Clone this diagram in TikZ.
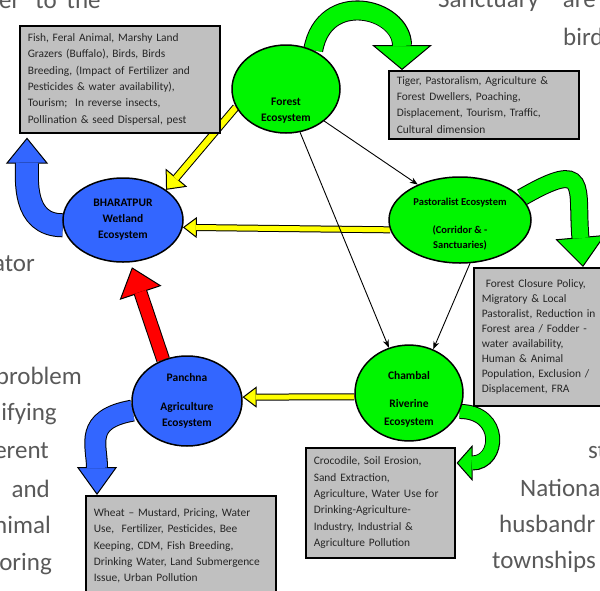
\documentclass[tikz,border=0pt]{standalone}
\usepackage{fontspec}
\setmainfont{Carlito}
\usetikzlibrary{shapes.geometric,arrows.meta,backgrounds,calc}
\definecolor{ecogreen}{RGB}{0,245,0}
\definecolor{ecoblue}{RGB}{51,102,255}
\definecolor{ecoyellow}{RGB}{255,255,0}
\definecolor{ecored}{RGB}{255,0,0}
\definecolor{boxgray}{RGB}{192,192,192}
\definecolor{slidetext}{RGB}{89,89,89}
\newcommand{\blockarrow}[5]{%
	\draw[line width=#2+2pt, -{Triangle[length=#4, width=#3, fill=#1, line width=1pt]}] #5;
	\draw[line width=#2, draw=#1, shorten >=#4-1pt] #5;
}
\begin{document}
\begin{tikzpicture}[x=1pt, y=1pt,
	eco/.style={ellipse, draw=black, line width=1.5pt, inner sep=0pt, align=center, font=\fontsize{11.5}{16}\selectfont\bfseries},
	wet/.style={eco, fill=ecoblue},
	dry/.style={eco, fill=ecogreen},
	info/.style={rectangle, draw=black, line width=1.6pt, fill=boxgray, anchor=north west, align=left, inner xsep=8pt, inner ysep=3pt, text=black!85, font=\fontsize{11.4}{16.4}\selectfont},
	slide/.style={text=slidetext, inner sep=0pt, font=\fontsize{25}{30}\selectfont},
	link/.style={-{Stealth[length=8pt, width=6pt]}, line width=0.9pt}]
	\useasboundingbox (0,0) rectangle (600,-590);
	\node[dry, minimum width=108pt, minimum height=88pt] (forest) at (286,-89) {\raisebox{-24pt}[0pt][0pt]{\begin{tabular}{@{}c@{}}Forest\\Ecosystem\end{tabular}}};
	\node[wet, minimum width=120pt, minimum height=84pt] (bharatpur) at (123,-220) {BHARATPUR\\Wetland\\Ecosystem};
	\node[dry, minimum width=142pt, minimum height=86pt, font=\fontsize{10.5}{16}\selectfont\bfseries] (pastoral) at (460,-220) {\mbox{}\\Pastoralist Ecosystem\\[12pt](Corridor \& -\\[-1.5pt]Sanctuaries)};
	\node[dry, minimum width=108pt, minimum height=88pt] (chambal) at (409,-393) {\mbox{}\\[4pt]Chambal\\[12pt]Riverine\\[2pt]Ecosystem};
	\node[wet, minimum width=110pt, minimum height=90pt] (panchna) at (187,-401) {Panchna\\[13pt]Agriculture\\Ecosystem};
	\node[info, text width=184pt, minimum height=107pt] (wetinfo) at (19,-25) {Fish, Feral Animal, Marshy Land\\Grazers (Buffalo), Birds, Birds\\Breeding, (Impact of Fertilizer and\\Pesticides \& water availability),\\Tourism;~ In reverse insects,\\Pollination \& seed Dispersal, pest};
	\node[info, text width=174pt, minimum height=68pt] (forestinfo) at (388,-70) {Tiger, Pastoralism, Agriculture \&\\Forest Dwellers, Poaching,\\Displacement, Tourism, Traffic,\\Cultural dimension};
	\node[info, text width=135pt, minimum height=138pt, font=\fontsize{11.4}{15}\selectfont] (pastinfo) at (473,-267) {\hspace*{4pt}Forest Closure Policy,\\Migratory \& Local\\Pastoralist, Reduction in\\Forest area / Fodder -\\water availability,\\Human \& Animal\\Population, Exclusion /\\Displacement, FRA};
	\node[info, text width=133pt, minimum height=110pt] (chambinfo) at (305,-447) {Crocodile, Soil Erosion,\\Sand Extraction,\\Agriculture, Water Use for\\Drinking-Agriculture-\\Industry, Industrial \&\\Agriculture Pollution};
	\node[info, text width=174pt, minimum height=100pt] (panchinfo) at (85,-495) {Wheat -- Mustard, Pricing, Water\\Use,~ Fertilizer, Pesticides, Bee\\Keeping, CDM, Fish Breeding,\\Drinking Water, Land Submergence\\Issue, Urban Pollution};
	\begin{scope}[on background layer]
		\node[slide, anchor=base west] (topleft) at (-1,-8) {er\hspace{15pt}to\hspace{10pt}the};
		\node[slide, anchor=base west] (topright) at (438,-7) {Sanctuary\hspace{24pt}are};
		\node[slide, anchor=base west] (birdline) at (563,-45) {bird};
		\node[slide, anchor=base east] (atorline) at (35,-271) {ator};
		\node[slide, anchor=base east] (probline) at (82,-384) {problem};
		\node[slide, anchor=base east] (ifyline) at (57,-420) {ifying};
		\node[slide, anchor=base east] (erentline) at (49,-458) {erent};
		\node[slide, anchor=base east] (andline) at (50,-497) {and};
		\node[slide, anchor=base east] (nimalline) at (51,-533) {nimal};
		\node[slide, anchor=base east] (oringline) at (52,-570) {oring};
		\node[slide, anchor=base west] (stline) at (588,-458) {st};
		\node[slide, anchor=base west] (natline) at (520,-496) {Nationa};
		\node[slide, anchor=base west] (husline) at (499,-532) {husbandr};
		\node[slide, anchor=base west] (townline) at (492,-568) {townships};
		\blockarrow{ecogreen}{18pt}{60pt}{25pt}{(forest.55) to[out=80, in=90, looseness=1.75] ($(forestinfo.north west)+(14,0)$)}
		\blockarrow{ecogreen}{16pt}{50pt}{30pt}{(pastoral.20) to[out=30, in=95, looseness=2.2] ($(pastinfo.north west)+(110,0)$)}
		\blockarrow{ecogreen}{13pt}{36pt}{16pt}{(chambal.-20) to[out=0, in=0, looseness=2.15] ($(chambinfo.north east)+(1,-16)$)}
		\blockarrow{ecoblue}{22pt}{42pt}{26pt}{(bharatpur.185) to[out=180, in=-90, looseness=1.1] ($(wetinfo.south west)+(8,-4)$)}
		\blockarrow{ecoblue}{20pt}{40pt}{28pt}{(panchna.190) to[out=190, in=90, looseness=1.39] ($(panchinfo.north west)+(12,0)$)}
		\blockarrow{ecoyellow}{6pt}{28pt}{16pt}{(forest.200) -- (bharatpur.35)}
		\blockarrow{ecoyellow}{5pt}{21pt}{14pt}{(pastoral.188) -- (bharatpur.-7)}
		\blockarrow{ecoyellow}{5pt}{21pt}{14pt}{(chambal.184) -- (panchna.4)}
		\blockarrow{ecored}{12pt}{44pt}{27pt}{(panchna.120) -- ($(bharatpur.-78)+(0,-5)$)}
		\draw[link] (forest.-40) -- (pastoral.140);
		\draw[link] (forest.-72) -- (chambal.114);
		\draw[link] (pastoral.-77) -- (chambal.61);
	\end{scope}
\end{tikzpicture}
\end{document}
